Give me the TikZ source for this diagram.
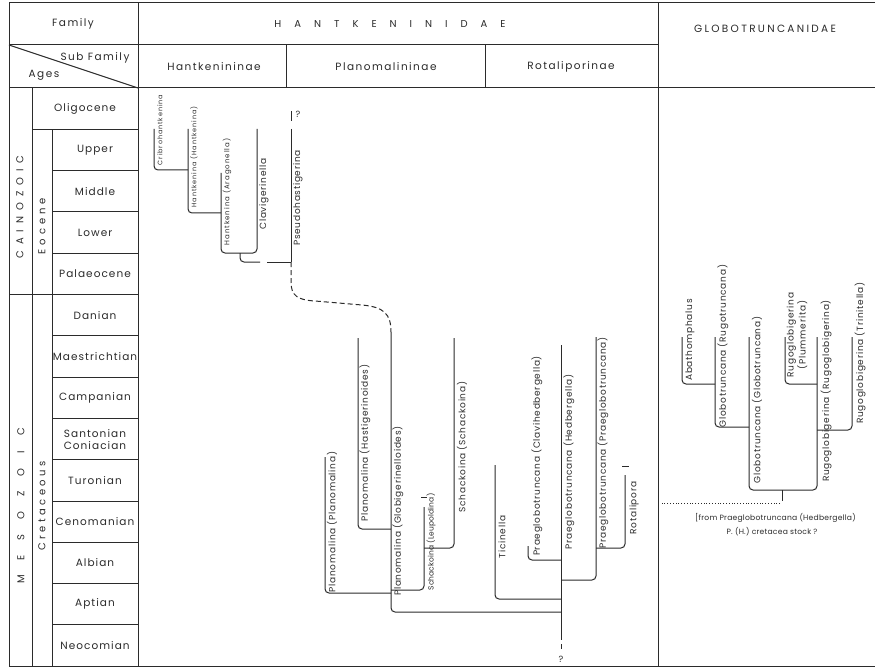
\documentclass[tikz,border=0pt]{standalone}
\usepackage{fontspec}
\setmainfont{Poppins}
\definecolor{ink}{HTML}{2B2B2B}
\newcommand\labfont{\fontsize{9}{10.5}\selectfont\addfontfeature{LetterSpace=8}}
\newcommand\smallfont{\fontsize{6.5}{8}\selectfont\addfontfeature{LetterSpace=14}}
\newcommand\agefont{\fontsize{10.5}{12}\selectfont\addfontfeature{LetterSpace=10}}
\newcommand\headfont{\fontsize{10.5}{12}\selectfont\addfontfeature{LetterSpace=14}}
\newcommand\spfont[2]{\fontsize{#1}{12}\selectfont\addfontfeature{LetterSpace=#2}}
\begin{document}
\begin{tikzpicture}[x=1pt,y=-1pt,
  grid/.style={draw=ink,line width=1pt},
  br/.style={draw=ink,line width=1pt,rounded corners=4pt},
  lab/.style={inner sep=0pt,text=ink,font=\labfont},
  vlab/.style={lab,rotate=90},
  svlab/.style={vlab,font=\smallfont},
  age/.style={inner sep=0pt,text=ink,font=\agefont,align=center},
  head/.style={inner sep=0pt,text=ink,font=\headfont},
]
\fill[white] (0,0) rectangle (875,671);
\useasboundingbox (0,0) rectangle (875,671);

% ---------- frame and header ----------
\draw[grid] (9,3) -- (875,3);
\draw[grid] (9,666) -- (875,666);
\draw[grid] (9,3) -- (9,666);
\draw[grid] (138,3) -- (138,666);
\draw[grid] (658,3) -- (658,666);
\draw[grid] (9,45) -- (658,45);
\draw[grid] (9,88) -- (875,88);
\draw[grid] (286,45) -- (286,88);
\draw[grid] (485,45) -- (485,88);
\draw[grid] (9,45) -- (138,88);

\node[head] (fam) at (73,24) {Family};
\node[inner sep=0pt,text=ink,font=\spfont{10}{130}] (hkd) at (390,24) {HANTKENINIDAE};
\node[inner sep=0pt,text=ink,font=\spfont{10.5}{22}] (gtd) at (765,29) {GLOBOTRUNCANIDAE};
\node[head] (subf) at (95,58) {Sub Family};
\node[head] (ages) at (44,75) {Ages};
\node[head] (hsub) at (214,67) {Hantkenininae};
\node[head] (psub) at (386,67) {Planomalininae};
\node[head] (rsub) at (571,67) {Rotaliporinae};

% ---------- stratigraphic column ----------
\draw[grid] (32,88) -- (32,666);
\draw[grid] (52,129.3) -- (52,666);
\draw[grid] (32,129.3) -- (138,129.3);
\foreach \yy in {170.6,211.9,253.2,335.8,377.1,418.4,459.7,501.0,542.3,583.6,624.9}
  \draw[grid] (52,\yy) -- (138,\yy);
\draw[grid] (9,294.5) -- (138,294.5);

\node[inner sep=0pt,text=ink,font=\spfont{10}{60},rotate=90] (cai) at (20,207) {CAINOZOIC};
\node[inner sep=0pt,text=ink,font=\spfont{10}{150},rotate=90] (mes) at (21,506) {MESOZOIC};
\node[inner sep=0pt,text=ink,font=\spfont{10}{40},rotate=90] (eoc) at (42,226) {Eocene};
\node[inner sep=0pt,text=ink,font=\spfont{10}{35},rotate=90] (cre) at (42,506) {Cretaceous};

\node[age] (a1) at (85,108.7) {Oligocene};
\node[age] (a2) at (95,150) {Upper};
\node[age] (a3) at (95,191.3) {Middle};
\node[age] (a4) at (95,232.6) {Lower};
\node[age] (a5) at (95,273.9) {Palaeocene};
\node[age] (a6) at (95,315.2) {Danian};
\node[age] (a7) at (95,356.5) {Maestrichtian};
\node[age] (a8) at (95,397.8) {Campanian};
\node[age] (a9) at (95,439.1) {Santonian\\Coniacian};
\node[age] (a10) at (95,480.4) {Turonian};
\node[age] (a11) at (95,521.7) {Cenomanian};
\node[age] (a12) at (95,563) {Albian};
\node[age] (a13) at (95,604.3) {Aptian};
\node[age] (a14) at (95,645.6) {Neocomian};

% ---------- Hantkenininae ----------
\draw[br] (154,129) |- (188,170);
\draw[br] (188,129) |- (221,213);
\draw[br] (221,173) -- (221,253) -- (257,253) -- (257,129);
\draw[br] (240,253) |- (260,262);
\draw[grid] (267,262) -- (291,262);
\draw[grid] (291,129) -- (291,262);
\draw[grid] (291,111) -- (291,121);
\node[lab] (q1) at (298,114) {?};
\draw[grid,dashed,dash pattern=on 5pt off 3pt] (291,262) -- (291,282)
   .. controls (291,296) and (298,300) .. (315,301) -- (362,305)
   .. controls (384,307) and (391,314) .. (391,332);

\node[svlab] (cribro) at (160,130) {Cribrohantkenina};
\node[svlab] (hanth) at (194,157) {Hantkenina (Hantkenina)};
\node[vlab,font=\fontsize{7}{8}\selectfont\addfontfeature{LetterSpace=14}] (hanta) at (227,192) {Hantkenina (Aragonella)};
\node[vlab] (clav) at (264,194) {Clavigerinella};
\node[vlab] (pseudo) at (298,198) {Pseudohastigerina};

% ---------- Planomalininae ----------
\draw[br] (391,332) |- (561,612);
\draw[br] (325,457) |- (391,593);
\draw[br] (358,338) |- (391,529);
\draw[br] (424,507) |- (391,590);
\draw[grid] (421,497) -- (427,497);
\draw[br] (454,338) |- (424,548);

\node[vlab] (pp) at (332,522) {Planomalina (Planomalina)};
\node[vlab] (ph) at (365,443) {Planomalina (Hastigerinoides)};
\node[vlab] (pg) at (398,511) {Planomalina (Globigerinelloides)};
\node[vlab,font=\fontsize{7.5}{9}\selectfont\addfontfeature{LetterSpace=2}] (sl) at (431,542) {Schackoina (Leupoldina)};
\node[vlab] (ss) at (462,447) {Schackoina (Schackoina)};

% ---------- Rotaliporinae ----------
\draw[grid] (561,345) -- (561,635);
\draw[grid,dashed,dash pattern=on 5pt off 4pt] (561,635) -- (561,652);
\node[lab] (q2) at (561,659) {?};
\draw[br] (495,465) |- (561,599);
\draw[br] (528,546) |- (561,560);
\draw[br] (596,337) |- (561,580);
\draw[br] (625,475) |- (596,548);
\draw[grid] (622,466) -- (629,466);

\node[vlab] (tic) at (502,537) {Ticinella};
\node[vlab] (pcl) at (537,456) {Praeglobotruncana (Clavihedbergella)};
\node[vlab] (phe) at (569,462) {Praeglobotruncana (Hedbergella)};
\node[vlab] (ppr) at (603,443) {Praeglobotruncana (Praeglobotruncana)};
\node[vlab] (rot) at (634,508) {Rotalipora};

% ---------- Globotruncanidae ----------
\draw[br] (682,337) |- (715,384);
\draw[br] (715,337) |- (749,427);
\draw[br] (749,337) -- (749,490) -- (817,490) -- (817,337);
\draw[br] (785,337) |- (817,384);
\draw[br] (852,337) |- (817,430);
\draw[grid] (782,490) -- (782,501);
\draw[ink,line width=0.8pt,dotted] (780,503) -- (662,503);

\node[vlab] (aba) at (690,340) {Abathomphalus};
\node[vlab] (gr) at (723,346) {Globotruncana (Rugotruncana)};
\node[vlab] (gg) at (757,400) {Globotruncana (Globotruncana)};
\node[vlab,align=center] (plum) at (797,335) {Rugoglobigerina\\(Plummerita)};
\node[vlab] (rr) at (826,391) {Rugoglobigerina (Rugoglobigerina)};
\node[vlab] (trin) at (860,353) {Rugoglobigerina (Trinitella)};
\node[lab,anchor=west,font=\fontsize{7.6}{9}\selectfont\addfontfeature{LetterSpace=3}] (from1) at (695,518) {[from Praeglobotruncana (Hedbergella)};
\node[lab,font=\fontsize{7.6}{9}\selectfont\addfontfeature{LetterSpace=3}] (from2) at (772,532) {P. (H.) cretacea stock ?};
\end{tikzpicture}
\end{document}
